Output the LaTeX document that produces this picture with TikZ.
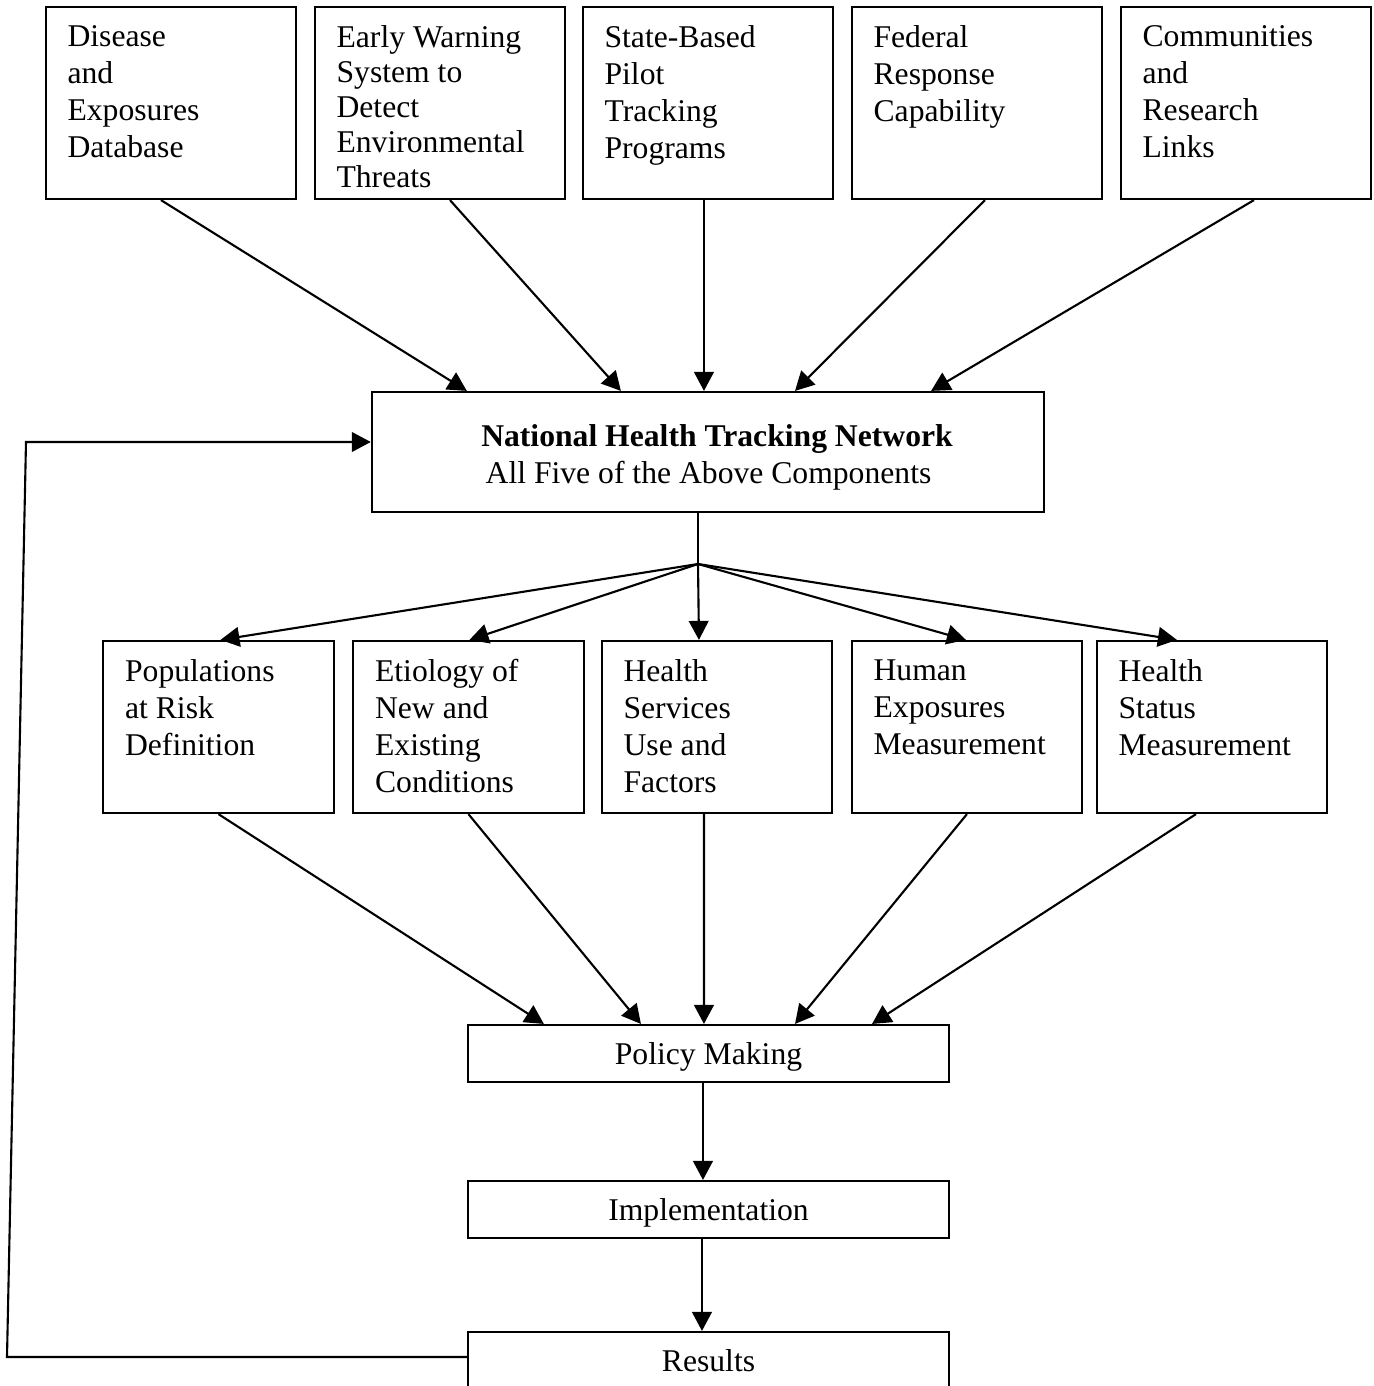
\documentclass[tikz,border=0pt]{standalone}
\usepackage{fontspec}
\setmainfont{Liberation Serif}
\usetikzlibrary{arrows.meta,positioning,calc}

\begin{document}
\begin{tikzpicture}[x=0.01cm,y=-0.01cm,>={Triangle[length=5.4pt,width=5.6pt]},
  box/.style={draw,line width=0.6pt,inner sep=0pt},
  topbox/.style={box,minimum width=2.5cm,minimum height=1.92cm},
  midbox/.style={box,minimum width=2.3cm,minimum height=1.72cm},
  stepbox/.style={box,minimum width=4.81cm,minimum height=0.57cm,text height=6.2pt,text depth=0pt,font=\fontsize{9pt}{10.5pt}\selectfont},
  lab/.style={font=\fontsize{9pt}{10.5pt}\selectfont,inner sep=0pt,align=left,anchor=north west},
  conn/.style={line width=0.6pt}]
  \useasboundingbox (0,0) rectangle (1373,1386);
  % top row: the five components
  \foreach \i/\x/\s/\t in {1/171/10.5/{Disease\\and\\Exposures\\Database},
      2/440/9.95/{Early Warning\\System to\\Detect\\Environmental\\Threats},
      3/708/10.5/{State-Based\\Pilot\\Tracking\\Programs},
      4/977/10.5/{Federal\\Response\\Capability},
      5/1246/10.5/{Communities\\and\\Research\\Links}}{
    \node[topbox] (s\i) at (\x,103) {};
    \node[lab,font=\fontsize{9pt}{\s pt}\selectfont] (s\i lab) at ([shift={(22,19)}]s\i.north west) {\t};
  }
  % network
  \node[box,minimum width=6.72cm,minimum height=1.2cm] (cen) at (708,452) {};
  \node[font=\fontsize{9pt}{10.5pt}\selectfont,inner sep=0pt,align=center,anchor=north] (cenlab) at ([shift={(9,33)}]cen.north)
    {\textbf{National Health Tracking Network}\\All Five of the Above Components\hspace*{0.17cm}};
  \foreach \i/\a/\b in {1/1.16/0.96,2/1.36/2.50,3/1.22/3.33,4/1.34/4.24,5/1.34/5.60}
    \draw[conn,->] ([xshift=\a cm]s\i.south west) -- ([xshift=\b cm]cen.north west);
  % middle row: the five uses
  \foreach \i/\x/\t in {1/218.5/{Populations\\at Risk\\Definition},
      2/468.5/{Etiology of\\New and\\Existing\\Conditions},
      3/717/{Health\\Services\\Use and\\Factors},
      4/967/{Human\\Exposures\\Measurement},
      5/1212/{Health\\Status\\Measurement}}{
    \node[midbox] (m\i) at (\x,727) {};
    \node[lab] (m\i lab) at ([shift={(22,19)}]m\i.north west) {\t};
  }
  \coordinate (fan) at (698,564);
  \draw[conn] (cen.south -| fan) -- (fan);
  \foreach \i/\a in {1/1.18,2/1.17,3/0.98,4/1.15,5/0.81}
    \draw[conn,->] (fan) -- ([xshift=\a cm]m\i.north west);
  % policy chain
  \node[stepbox] (pol) at (708.5,1053.5) {Policy Making};
  \node[stepbox] (imp) at (708.5,1209.5) {Implementation};
  \node[stepbox] (res) at (708.5,1360.5) {Results};
  \foreach \i/\a/\b in {1/1.16/0.77,2/1.16/1.74,3/1.03/2.37,4/1.16/3.28,5/1.00/4.05}
    \draw[conn,->] ([xshift=\a cm]m\i.south west) -- ([xshift=\b cm]pol.north west);
  \draw[conn,->] ([xshift=2.36cm]pol.south west) -- ([xshift=2.36cm]imp.north west);
  \draw[conn,->] ([xshift=2.35cm]imp.south west) -- ([xshift=2.35cm]res.north west);
  % feedback loop
  \coordinate (fb1) at (7,1357);
  \coordinate (fb2) at (26,442);
  \draw[conn,->] (res.west |- fb1) -- (fb1) -- (fb2) -- (cen.west |- fb2);
\end{tikzpicture}
\end{document}
